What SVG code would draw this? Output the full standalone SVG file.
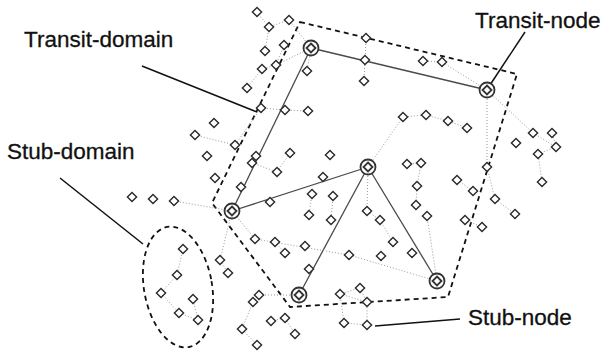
<svg xmlns="http://www.w3.org/2000/svg" xmlns:xlink="http://www.w3.org/1999/xlink" width="606" height="352" viewBox="0 0 606 352">
  <defs>
    <path id="dia" d="M0,-4.6 L4.6,0 L0,4.6 L-4.6,0 Z"/>
    <g id="tnode">
      <circle r="7.5"/>
      <path d="M0,-4.5 L4.5,0 L0,4.5 L-4.5,0 Z"/>
    </g>
  </defs>
  <style>
    .stub use { fill: #fff; stroke: #2a2a2a; stroke-width: 1.4; }
    .transit use { fill: #fff; stroke: #333; stroke-width: 1.8; }
    .slink { stroke: #9a9a9a; stroke-width: 1; stroke-dasharray: 1 2; fill: none; }
    .tlink { stroke: #4a4a4a; stroke-width: 1.3; fill: none; }
    .domain { stroke: #111; stroke-width: 1.8; stroke-dasharray: 5 4; fill: none; }
    .leader { stroke: #111; stroke-width: 1.5; fill: none; }
    .label { font-family: "Liberation Sans", Arial, sans-serif; font-size: 22.5px; fill: #111; stroke: #111; stroke-width: 0.3; }
  </style>
  <rect width="606" height="352" fill="#fff"/>

  <!-- domain outlines -->
  <g id="domains">
    <path class="domain" d="M300,22 L517,74 L448,297 L290,307 L212,203 Z"/>
    <ellipse class="domain" cx="178" cy="287" rx="34" ry="61" transform="rotate(-10 178 287)"/>
  </g>

  <!-- connectors -->
  <g id="connectors">
    <!-- transit backbone -->
    <path class="tlink" d="M311,48 L487,90"/>
    <path class="tlink" d="M311,48 L232,211"/>
    <path class="tlink" d="M232,211 L368,167"/>
    <path class="tlink" d="M368,167 L299,295"/>
    <path class="tlink" d="M368,167 L437,281"/>
    <!-- stub links -->
    <path class="slink" d="M257,12 L269,27 L289,20 L311,48"/>
    <path class="slink" d="M269,27 L265,51"/>
    <path class="slink" d="M284,45 L276,65 L311,48 L307,71"/>
    <path class="slink" d="M276,65 L262,69 L247,88"/>
    <path class="slink" d="M261,108 L285,110 L308,111"/>
    <path class="slink" d="M195,135 L235,145 L261,108"/>
    <path class="slink" d="M252,163 L277,172 L290,153"/>
    <path class="slink" d="M366,38 L365,60 L364,81"/>
    <path class="slink" d="M487,90 L442,62 L423,61"/>
    <path class="slink" d="M368,167 L403,117 L426,115 L448,121 L467,128"/>
    <path class="slink" d="M487,90 L487,167 L495,199 L515,214"/>
    <path class="slink" d="M487,90 L533,133 L556,147 L552,133"/>
    <path class="slink" d="M556,147 L538,154 L542,182"/>
    <path class="slink" d="M457,180 L473,191"/>
    <path class="slink" d="M465,220 L482,227"/>
    <path class="slink" d="M407,164 L421,163 L417,186 L416,205"/>
    <path class="slink" d="M427,216 L437,281"/>
    <path class="slink" d="M368,167 L367,211 L380,220 L393,242"/>
    <path class="slink" d="M255,239 L349,255 L437,281"/>
    <path class="slink" d="M312,194 L309,215"/>
    <path class="slink" d="M333,196 L331,220"/>
    <path class="slink" d="M275,242 L285,253"/>
    <path class="slink" d="M174,201 L232,211 L255,239"/>
    <path class="slink" d="M232,211 L220,260 L228,273"/>
    <path class="slink" d="M183,249 L177,275 L161,293 L179,313 L198,320 L193,299"/>
    <path class="slink" d="M259,295 L299,295"/>
    <path class="slink" d="M253,302 L242,329 L257,345"/>
    <path class="slink" d="M271,321 L285,318 L295,334"/>
    <path class="slink" d="M360,288 L340,294 L367,302 L360,288"/>
    <path class="slink" d="M340,294 L344,323 L367,325 L367,302"/>
  </g>

  <!-- label leaders -->
  <g id="leaders">
    <path class="leader" d="M142,66 L257,112"/>
    <path class="leader" d="M60,178 L143,244"/>
    <path class="leader" d="M525,32 L490,85"/>
    <path class="leader" d="M375,326 L460,319"/>
  </g>

  <!-- transit nodes -->
  <g class="transit">
    <g id="t1"><use xlink:href="#tnode" x="311" y="48"/></g>
    <g id="t2"><use xlink:href="#tnode" x="487" y="90"/></g>
    <g id="t3"><use xlink:href="#tnode" x="368" y="167"/></g>
    <g id="t4"><use xlink:href="#tnode" x="232" y="211"/></g>
    <g id="t5"><use xlink:href="#tnode" x="299" y="295"/></g>
    <g id="t6"><use xlink:href="#tnode" x="437" y="281"/></g>
  </g>

  <!-- stub nodes -->
  <g class="stub">
    <g id="s1"><use xlink:href="#dia" x="257" y="12"/></g>
    <g id="s2"><use xlink:href="#dia" x="289" y="20"/></g>
    <g id="s3"><use xlink:href="#dia" x="269" y="27"/></g>
    <g id="s4"><use xlink:href="#dia" x="284" y="45"/></g>
    <g id="s5"><use xlink:href="#dia" x="265" y="51"/></g>
    <g id="s6"><use xlink:href="#dia" x="276" y="65"/></g>
    <g id="s7"><use xlink:href="#dia" x="262" y="69"/></g>
    <g id="s8"><use xlink:href="#dia" x="307" y="71"/></g>
    <g id="s9"><use xlink:href="#dia" x="247" y="88"/></g>
    <g id="s10"><use xlink:href="#dia" x="261" y="108"/></g>
    <g id="s11"><use xlink:href="#dia" x="285" y="110"/></g>
    <g id="s12"><use xlink:href="#dia" x="308" y="111"/></g>
    <g id="s13"><use xlink:href="#dia" x="214" y="123"/></g>
    <g id="s14"><use xlink:href="#dia" x="195" y="135"/></g>
    <g id="s15"><use xlink:href="#dia" x="235" y="145"/></g>
    <g id="s16"><use xlink:href="#dia" x="207" y="156"/></g>
    <g id="s17"><use xlink:href="#dia" x="256" y="156"/></g>
    <g id="s18"><use xlink:href="#dia" x="252" y="163"/></g>
    <g id="s19"><use xlink:href="#dia" x="290" y="153"/></g>
    <g id="s20"><use xlink:href="#dia" x="277" y="172"/></g>
    <g id="s21"><use xlink:href="#dia" x="330" y="155"/></g>
    <g id="s22"><use xlink:href="#dia" x="366" y="38"/></g>
    <g id="s23"><use xlink:href="#dia" x="365" y="60"/></g>
    <g id="s24"><use xlink:href="#dia" x="364" y="81"/></g>
    <g id="s25"><use xlink:href="#dia" x="423" y="61"/></g>
    <g id="s26"><use xlink:href="#dia" x="442" y="62"/></g>
    <g id="s27"><use xlink:href="#dia" x="403" y="117"/></g>
    <g id="s28"><use xlink:href="#dia" x="426" y="115"/></g>
    <g id="s29"><use xlink:href="#dia" x="448" y="121"/></g>
    <g id="s30"><use xlink:href="#dia" x="467" y="128"/></g>
    <g id="s31"><use xlink:href="#dia" x="407" y="164"/></g>
    <g id="s32"><use xlink:href="#dia" x="421" y="163"/></g>
    <g id="s33"><use xlink:href="#dia" x="487" y="167"/></g>
    <g id="s34"><use xlink:href="#dia" x="533" y="133"/></g>
    <g id="s35"><use xlink:href="#dia" x="552" y="133"/></g>
    <g id="s36"><use xlink:href="#dia" x="516" y="143"/></g>
    <g id="s37"><use xlink:href="#dia" x="556" y="147"/></g>
    <g id="s38"><use xlink:href="#dia" x="538" y="154"/></g>
    <g id="s39"><use xlink:href="#dia" x="323" y="177"/></g>
    <g id="s40"><use xlink:href="#dia" x="312" y="194"/></g>
    <g id="s41"><use xlink:href="#dia" x="333" y="196"/></g>
    <g id="s42"><use xlink:href="#dia" x="270" y="202"/></g>
    <g id="s43"><use xlink:href="#dia" x="309" y="215"/></g>
    <g id="s44"><use xlink:href="#dia" x="331" y="220"/></g>
    <g id="s45"><use xlink:href="#dia" x="367" y="211"/></g>
    <g id="s46"><use xlink:href="#dia" x="255" y="239"/></g>
    <g id="s47"><use xlink:href="#dia" x="275" y="242"/></g>
    <g id="s48"><use xlink:href="#dia" x="285" y="253"/></g>
    <g id="s49"><use xlink:href="#dia" x="305" y="246"/></g>
    <g id="s50"><use xlink:href="#dia" x="349" y="255"/></g>
    <g id="s51"><use xlink:href="#dia" x="309" y="269"/></g>
    <g id="s52"><use xlink:href="#dia" x="417" y="186"/></g>
    <g id="s53"><use xlink:href="#dia" x="416" y="205"/></g>
    <g id="s54"><use xlink:href="#dia" x="427" y="216"/></g>
    <g id="s55"><use xlink:href="#dia" x="380" y="220"/></g>
    <g id="s56"><use xlink:href="#dia" x="393" y="242"/></g>
    <g id="s57"><use xlink:href="#dia" x="412" y="253"/></g>
    <g id="s58"><use xlink:href="#dia" x="381" y="256"/></g>
    <g id="s59"><use xlink:href="#dia" x="457" y="180"/></g>
    <g id="s60"><use xlink:href="#dia" x="473" y="191"/></g>
    <g id="s61"><use xlink:href="#dia" x="495" y="199"/></g>
    <g id="s62"><use xlink:href="#dia" x="515" y="214"/></g>
    <g id="s63"><use xlink:href="#dia" x="465" y="220"/></g>
    <g id="s64"><use xlink:href="#dia" x="482" y="227"/></g>
    <g id="s65"><use xlink:href="#dia" x="542" y="182"/></g>
    <g id="s66"><use xlink:href="#dia" x="132" y="197"/></g>
    <g id="s67"><use xlink:href="#dia" x="153" y="199"/></g>
    <g id="s68"><use xlink:href="#dia" x="174" y="201"/></g>
    <g id="s69"><use xlink:href="#dia" x="215" y="178"/></g>
    <g id="s70"><use xlink:href="#dia" x="241" y="187"/></g>
    <g id="s71"><use xlink:href="#dia" x="220" y="260"/></g>
    <g id="s72"><use xlink:href="#dia" x="228" y="273"/></g>
    <g id="s73"><use xlink:href="#dia" x="253" y="302"/></g>
    <g id="s74"><use xlink:href="#dia" x="259" y="295"/></g>
    <g id="s75"><use xlink:href="#dia" x="242" y="329"/></g>
    <g id="s76"><use xlink:href="#dia" x="271" y="321"/></g>
    <g id="s77"><use xlink:href="#dia" x="285" y="318"/></g>
    <g id="s78"><use xlink:href="#dia" x="295" y="334"/></g>
    <g id="s79"><use xlink:href="#dia" x="257" y="345"/></g>
    <g id="s80"><use xlink:href="#dia" x="183" y="249"/></g>
    <g id="s81"><use xlink:href="#dia" x="177" y="275"/></g>
    <g id="s82"><use xlink:href="#dia" x="161" y="293"/></g>
    <g id="s83"><use xlink:href="#dia" x="193" y="299"/></g>
    <g id="s84"><use xlink:href="#dia" x="179" y="313"/></g>
    <g id="s85"><use xlink:href="#dia" x="198" y="320"/></g>
    <g id="s86"><use xlink:href="#dia" x="360" y="288"/></g>
    <g id="s87"><use xlink:href="#dia" x="340" y="294"/></g>
    <g id="s88"><use xlink:href="#dia" x="367" y="302"/></g>
    <g id="s89"><use xlink:href="#dia" x="344" y="323"/></g>
    <g id="s90"><use xlink:href="#dia" x="367" y="325"/></g>
  </g>

  <!-- labels -->
  <g id="labels">
    <text class="label" x="24" y="47">Transit-domain</text>
    <text class="label" x="7" y="159">Stub-domain</text>
    <text class="label" x="475" y="28">Transit-node</text>
    <text class="label" x="468" y="325">Stub-node</text>
  </g>
</svg>
